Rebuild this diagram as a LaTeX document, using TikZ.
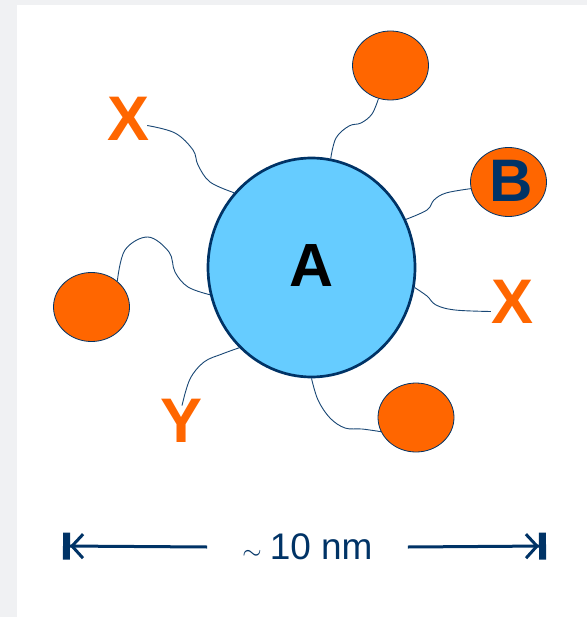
\documentclass[tikz,border=0pt]{standalone}
\definecolor{navyline}{RGB}{0,51,102}
\definecolor{coreblue}{RGB}{102,204,255}
\definecolor{ligorange}{RGB}{255,102,0}
\definecolor{pagegray}{RGB}{240,241,243}
\usepackage{fontspec}
\setmainfont{Liberation Sans}
\usepackage{tikz}
\usetikzlibrary{arrows.meta, shapes.geometric}

\begin{document}
\begin{tikzpicture}[x=1pt,y=-1pt,
        core/.style={ellipse,draw=navyline,line width=2.7pt,fill=coreblue,
                     minimum width=207pt,minimum height=219pt,inner sep=0pt,
                     font=\fontsize{61}{61}\selectfont\bfseries},
        bead/.style={ellipse,draw=navyline,line width=0.8pt,fill=ligorange,
                     minimum width=76pt,minimum height=69pt,inner sep=0pt,
                     text=navyline,font=\fontsize{60}{60}\selectfont\bfseries},
        endgroup/.style={text=ligorange,inner sep=0pt,
                         font=\fontsize{63}{63}\selectfont\bfseries},
        tether/.style={draw=navyline!90,line width=0.9pt},
        dimline/.style={navyline,line width=3pt,
                        -{Straight Barb[length=11pt,width=24pt]Rectangle[length=7pt,width=27pt]}}]
      \useasboundingbox (0,0) rectangle (587,617);
      \fill[pagegray] (0,0) rectangle (587,617);
      \fill[white] (17,5) rectangle (587,617);
      % particle and its ligands
      \node[core] (core) at (311.5,267.5) {\raisebox{3pt}{A}};
      \node[bead] (p1) at (390.5,65.5) {};
      \node[bead] (b) at (508.5,182) {\hspace{6pt}\raisebox{2pt}{B}};
      \node[bead] (p3) at (91.5,307) {};
      \node[bead] (p4) at (416,417.5) {};
      \node[endgroup] (xa) at (129,118.5) {X};
      \node[endgroup] (xb) at (512,301.5) {X};
      \node[endgroup] (yl) at (182,420.5) {Y};
      \draw[tether] plot[smooth,tension=0.6] coordinates
        {(core.80) (336,138) (349,126) (361,123) (372,114) (p1.250)};
      \draw[tether] plot[smooth,tension=0.6] coordinates
        {(core.27) (427,210) (434,200) (446,193) (b.190)};
      \draw[tether] plot[smooth,tension=0.6] coordinates
        {(core.-11) (427,296) (436,305) (455,310) ([yshift=-10pt]xb.west)};
      \draw[tether] plot[smooth,tension=0.6] coordinates
        {(core.270) (318,400) (330,418) (345,428) (362,429) (p4.202)};
      \draw[tether] plot[smooth,tension=0.6] coordinates
        {(core.228) (222,354) (204,362) (190,379) ([yshift=-7pt]yl.north)};
      \draw[tether] plot[smooth,tension=0.6] coordinates
        {(core.195) (188,287) (175,272) (169,252) (148,237) (125,250) (p3.45)};
      \draw[tether] plot[smooth,tension=0.6] coordinates
        {(core.136) (210,182) (198,165) (193,150) (175,133) ([xshift=-3pt,yshift=-7pt]xa.east)};
      % size bar
      \coordinate (dl) at (63,546);
      \coordinate (dr) at (546,546);
      \node[text=navyline,inner xsep=35pt,inner ysep=0pt,
            font=\fontsize{37}{37}\selectfont] (lab) at (307.5,547)
            {{\fontsize{28}{28}\selectfont$\sim$}\hspace{8pt}10 nm};
      \draw[dimline] (lab.west) -- (dl);
      \draw[dimline] (lab.east) -- (dr);
    \end{tikzpicture}
\end{document}
